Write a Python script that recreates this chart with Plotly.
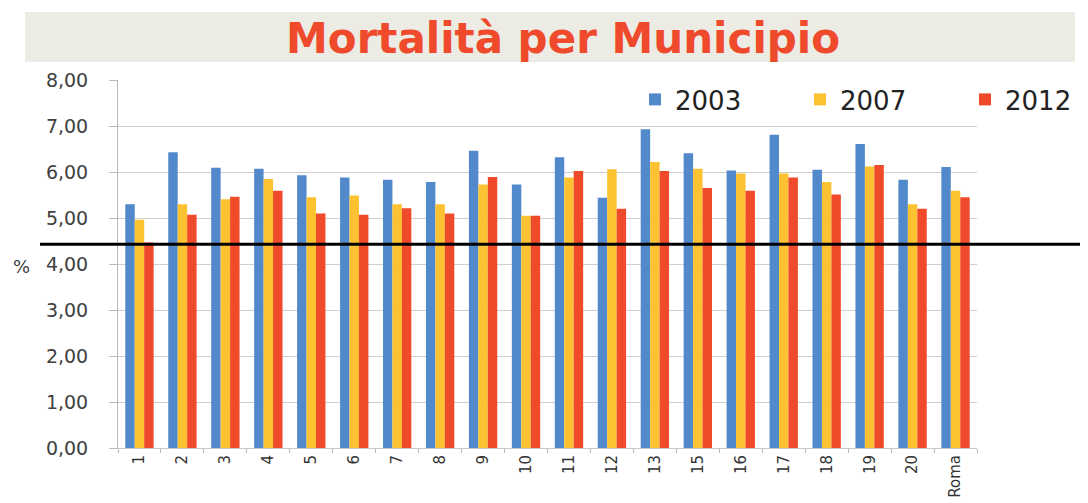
import plotly.graph_objects as go

municipi = ["1", "2", "3", "4", "5", "6", "7", "8", "9", "10", "11", "12", "13",
            "15", "16", "17", "18", "19", "20", "Roma"]
anni = ["2003", "2007", "2012"]
v2003 = [5.30, 6.43, 6.09, 6.07, 5.93, 5.88, 5.83, 5.78, 6.46, 5.73, 6.32, 5.44, 6.93,
         6.41, 6.03, 6.81, 6.05, 6.61, 5.83, 6.11]
v2007 = [4.96, 5.30, 5.41, 5.85, 5.45, 5.49, 5.30, 5.30, 5.73, 5.05, 5.88, 6.06, 6.22,
         6.07, 5.97, 5.97, 5.78, 6.12, 5.30, 5.59]
v2012 = [4.47, 5.07, 5.46, 5.59, 5.10, 5.07, 5.21, 5.10, 5.89, 5.05, 6.02, 5.20, 6.02,
         5.65, 5.59, 5.88, 5.51, 6.15, 5.20, 5.45]
soglia = 4.43
y_ticks = [0, 1, 2, 3, 4, 5, 6, 7, 8]

colori = ["#5189cb", "#fcc231", "#ef4a2a"]
serie = [v2003, v2007, v2012]
legende = ["legend", "legend2", "legend3"]

# the page has an 8px body margin: the figure starts at (8, 8)
OFF = 8
W, H = 1088 - OFF, 503 - OFF
PL, PR, PT, PB = 118, 977, 80, 448   # plot area in page pixels
L, R, T, B = PL - OFF, 1088 - PR, PT - OFF, 503 - PB
pw, ph = PR - PL, PB - PT


def px(x):
    return (x - PL) / pw


def py(y):
    return (PB - y) / ph


fig = go.Figure()
for nome, valori, col, lg in zip(anni, serie, colori, legende):
    fig.add_trace(go.Bar(x=municipi, y=valori, name=nome, marker_color=col,
                         marker_line_width=0, legend=lg))

# title box
fig.add_shape(type="rect", xref="paper", yref="paper",
              x0=px(25), x1=px(1075), y0=py(62), y1=py(12),
              fillcolor="#ecebe4", line_width=0, layer="below")
fig.add_annotation(text="Mortalità per Municipio", xref="paper", yref="paper",
                   x=px(563), y=py(38), xanchor="center", yanchor="middle", showarrow=False,
                   font=dict(family="DejaVu Sans", size=42, color="#ee4a2b", weight="bold"))
# threshold line
fig.add_shape(type="line", xref="paper", yref="y", x0=px(40), x1=px(1088),
              y0=soglia, y1=soglia, line=dict(color="#000000", width=3))
# % label
fig.add_annotation(text="%", xref="paper", yref="paper", x=px(21), y=py(266),
                   xanchor="center", yanchor="middle",
                   showarrow=False, font=dict(family="DejaVu Sans", size=18, color="#404040"))

leg_common = dict(orientation="h", xanchor="left", yanchor="top", y=py(76),
                  bgcolor="rgba(0,0,0,0)",
                  font=dict(family="DejaVu Sans", size=26, color="#222222"))
fig.update_layout(
    width=W, height=H,
    margin=dict(l=L, r=R, t=T, b=B, autoexpand=False),
    paper_bgcolor="white", plot_bgcolor="white",
    separators=",.",
    barmode="group", bargap=0.34, bargroupgap=0,
    legend=dict(x=px(635), **leg_common),
    legend2=dict(x=px(800), **leg_common),
    legend3=dict(x=px(965), **leg_common),
    showlegend=True,
)
fig.update_yaxes(range=[0, 8], tickvals=y_ticks, tickformat=".2f",
                 showgrid=True, gridcolor="#cfcfcf", gridwidth=1,
                 showline=True, linecolor="#b8b8b8", linewidth=1,
                 ticks="outside", ticklen=8, tickcolor="#b8b8b8",
                 ticklabelstandoff=17, automargin=False,
                 tickfont=dict(family="DejaVu Sans", size=19, color="#404040"),
                 zeroline=False)
fig.update_xaxes(type="category", tickangle=-90, automargin=False,
                 showline=True, linecolor="#c8c8c8", linewidth=1,
                 ticks="outside", tickson="boundaries", ticklen=4, tickcolor="#b8b8b8",
                 tickfont=dict(family="DejaVu Sans", size=15, color="#333333"))

fig.write_html("out.html")
